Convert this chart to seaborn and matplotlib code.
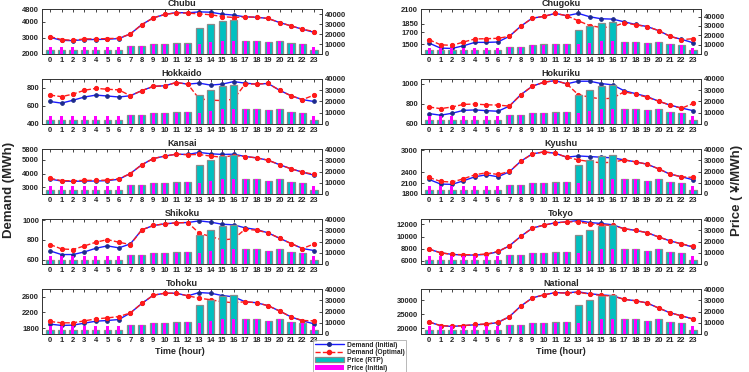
import matplotlib
matplotlib.use("Agg")
import matplotlib.pyplot as plt
import seaborn as sns
from matplotlib.lines import Line2D
from matplotlib.patches import Patch

hours = list(range(24))

price_rtp = [3800, 3800, 3800, 3800, 3800, 3800, 3800, 7900, 8000, 10000, 10200, 10800,
             11000, 26000, 29800, 33600, 34500, 13200, 13200, 12000, 13200, 10800, 9900, 3800]
price_init = [6700, 6700, 6700, 6700, 6700, 6700, 6700, 7600, 7600, 9800, 9900, 10200,
              10300, 10200, 11700, 13500, 13500, 12900, 12900, 12000, 12900, 10500, 9600, 6700]

chubu_init = [3040, 2850, 2830, 2900, 2900, 2920, 2960, 3250, 3830, 4250, 4460, 4580,
              4560, 4620, 4600, 4480, 4420, 4310, 4290, 4210, 3960, 3750, 3540, 3350]
chubu_opt = [3080, 2900, 2850, 2940, 2940, 2960, 2980, 3250, 3830, 4250, 4460, 4560,
             4540, 4500, 4440, 4330, 4270, 4310, 4290, 4210, 3960, 3750, 3540, 3400]

hokkaido_init = [650, 632, 664, 700, 721, 711, 700, 714, 771, 818, 825, 861,
                 843, 854, 832, 843, 871, 854, 843, 850, 775, 714, 671, 650]
hokkaido_opt = [721, 704, 732, 775, 796, 786, 779, 714, 771, 818, 825, 861,
                843, 680, 665, 660, 675, 843, 845, 850, 775, 714, 671, 721]

kansai_init = [3600, 3450, 3430, 3450, 3450, 3480, 3580, 4000, 4650, 5100, 5280, 5420,
               5400, 5550, 5450, 5400, 5420, 5250, 5150, 4980, 4650, 4350, 4100, 3880]
kansai_opt = [3650, 3480, 3470, 3500, 3500, 3520, 3620, 4000, 4650, 5100, 5280, 5420,
              5380, 5400, 5280, 5200, 5320, 5250, 5150, 4980, 4650, 4350, 4100, 3950]

shikoku_init = [688, 651, 651, 678, 715, 739, 719, 759, 902, 946, 963, 973,
                976, 993, 980, 959, 953, 922, 905, 871, 817, 763, 712, 692]
shikoku_opt = [753, 708, 702, 739, 776, 803, 776, 753, 902, 946, 963, 973,
               976, 868, 834, 800, 810, 908, 898, 871, 817, 763, 712, 759]

tohoku_init = [1900, 1867, 1875, 1925, 1975, 1992, 2017, 2183, 2425, 2633, 2683, 2683,
               2617, 2700, 2683, 2625, 2592, 2467, 2442, 2367, 2233, 2083, 1983, 1908]
tohoku_opt = [1967, 1933, 1933, 1983, 2033, 2058, 2092, 2183, 2425, 2633, 2683, 2683,
              2617, 2558, 2517, 2467, 2442, 2467, 2442, 2367, 2233, 2083, 1992, 1983]

chugoku_init = [1517, 1431, 1425, 1471, 1529, 1529, 1535, 1633, 1806, 1944, 1973, 2025,
                1985, 2025, 1967, 1933, 1927, 1881, 1835, 1800, 1731, 1633, 1581, 1523]
chugoku_opt = [1575, 1488, 1477, 1535, 1587, 1592, 1598, 1633, 1806, 1944, 1973, 2025,
               1985, 1898, 1817, 1783, 1794, 1864, 1829, 1800, 1731, 1633, 1575, 1592]

hokuriku_init = [703, 687, 706, 735, 739, 732, 726, 777, 890, 974, 1013, 1029,
                 997, 1023, 1023, 1000, 987, 929, 900, 871, 826, 787, 758, 732]
hokuriku_opt = [768, 752, 768, 794, 797, 790, 787, 777, 890, 974, 1013, 1029,
                997, 890, 865, 848, 855, 919, 894, 865, 826, 787, 755, 803]

kyushu_init = [2200, 2073, 2064, 2163, 2273, 2327, 2273, 2409, 2700, 2900, 2955, 2918,
               2810, 2845, 2827, 2810, 2791, 2736, 2682, 2618, 2491, 2345, 2273, 2191]
kyushu_opt = [2255, 2145, 2127, 2218, 2327, 2382, 2336, 2418, 2700, 2900, 2955, 2918,
              2810, 2736, 2691, 2655, 2673, 2736, 2682, 2618, 2491, 2345, 2273, 2255]

tokyo_init = [7946, 7350, 7080, 6970, 6970, 7080, 7510, 8490, 10050, 11400, 11890, 12270,
              12430, 12650, 12320, 12160, 11950, 11300, 11030, 10650, 9950, 9300, 8810, 8270]
tokyo_opt = [7946, 7350, 7080, 7030, 7030, 7140, 7570, 8490, 10050, 11400, 11890, 12270,
             12430, 12430, 12110, 11950, 11840, 11300, 11030, 10650, 9950, 9300, 8810, 8380]

national_init = [22200, 20900, 20600, 20900, 21200, 21400, 22000, 24100, 27900, 30800, 31900, 32700,
                 32600, 33000, 32300, 31900, 31600, 30300, 29800, 29000, 27200, 25500, 24400, 23300]
national_opt = [22200, 20900, 20700, 20900, 21300, 21500, 22100, 24100, 27900, 30800, 31900, 32700,
                32500, 32800, 32200, 31700, 31500, 30300, 29800, 29000, 27200, 25500, 24400, 23200]

region_names = ["Chubu", "Hokkaido", "Kansai", "Shikoku", "Tohoku",
                "Chugoku", "Hokuriku", "Kyushu", "Tokyo", "National"]
region_init = [chubu_init, hokkaido_init, kansai_init, shikoku_init, tohoku_init,
               chugoku_init, hokuriku_init, kyushu_init, tokyo_init, national_init]
region_opt = [chubu_opt, hokkaido_opt, kansai_opt, shikoku_opt, tohoku_opt,
              chugoku_opt, hokuriku_opt, kyushu_opt, tokyo_opt, national_opt]
left_ylims = [(2000, 4800), (400, 900), (2500, 5800), (555, 1012), (1650, 2790),
              (1330, 2100), (600, 1045), (1800, 3035), (5500, 12900), (17900, 34000)]
left_yticks = [[2000, 3000, 4000, 4800], [400, 600, 800], [3000, 4000, 5000, 5800],
               [600, 800, 1000], [1800, 2200, 2600],
               [1500, 1700, 1850, 2100], [600, 800, 1000], [1800, 2100, 2400, 3000],
               [6000, 8000, 10000, 12000], [20000, 25000, 30000]]
right_ymax = [45300, 40000, 40000, 40000, 40000, 48000, 40000, 40000, 40000, 40000]
right_yticks = [0, 10000, 20000, 30000, 40000]

sns.set_style("ticks")
plt.rcParams['font.family'] = ['Liberation Sans', 'DejaVu Sans']
plt.rcParams['font.weight'] = 'bold'

W, H = 749, 372
fig = plt.figure(figsize=(W / 100, H / 100), dpi=100)

blue = "#1a1aff"
blue_mk = "#1c2a8c"
red = "#ff1a1a"
cyan = "#00c0c0"
magenta = "#ff00ff"
tick_fs = 5.5
lw = 1.0
ms_blue = 2.6
ms_red = 3.0

for i, name in enumerate(region_names):
    col = i // 5
    row = i % 5
    left_px = 42 if col == 0 else 421
    top_px = 9 + 70 * row
    ax = fig.add_axes([left_px / W, 1 - (top_px + 45) / H, 280 / W, 45 / H])
    ax2 = ax.twinx()

    sns.lineplot(x=hours, y=region_init[i], ax=ax, color=blue, linewidth=lw,
                 marker="o", markersize=ms_blue, markerfacecolor=blue_mk,
                 markeredgecolor=blue_mk)
    sns.lineplot(x=hours, y=region_opt[i], ax=ax, color=red, linewidth=lw,
                 linestyle="--", marker="o", markersize=ms_red, markerfacecolor=red,
                 markeredgecolor=red)

    sns.barplot(x=hours, y=price_rtp, ax=ax2, color=cyan, width=0.62,
                edgecolor="#8a8a8a", linewidth=0.9, saturation=1)
    sns.barplot(x=hours, y=price_init, ax=ax2, color=magenta, width=0.26,
                linewidth=0, saturation=1)

    ax.set_xlim(-0.7, 23.7)
    ax2.set_xlim(-0.7, 23.7)
    ax.set_ylim(*left_ylims[i])
    ax.set_yticks(left_yticks[i])
    ax.set_yticklabels([str(v) for v in left_yticks[i]])
    ax2.set_ylim(0, right_ymax[i])
    ax2.set_yticks(right_yticks)
    ax2.set_yticklabels([str(v) for v in right_yticks])
    ax.set_xticks(hours)
    ax.set_xticklabels([str(h) for h in hours])
    ax.set_xlabel("")
    ax.set_ylabel("")
    ax2.set_xlabel("")
    ax2.set_ylabel("")

    ax.tick_params(axis="both", direction="in", length=2, width=0.6,
                   labelsize=tick_fs, pad=2, top=True, right=False)
    ax2.tick_params(axis="y", direction="in", length=2, width=0.6,
                    labelsize=tick_fs, pad=2)
    for a in (ax, ax2):
        for sp in a.spines.values():
            sp.set_visible(True)
            sp.set_linewidth(0.6)
            sp.set_color("#333333")
    ax.set_title(name, fontsize=6.5, fontweight="bold", pad=2)

fig.text(180 / W, 1 - 351 / H, "Time (hour)", ha="center", va="center",
         fontsize=6.5, fontweight="bold")
fig.text(561 / W, 1 - 351 / H, "Time (hour)", ha="center", va="center",
         fontsize=6.5, fontweight="bold")
fig.text(9 / W, 1 - 190 / H, "Demand (MWh)", rotation=90, ha="center", va="center",
         fontsize=9.5, fontweight="bold")
fig.text(737 / W, 1 - 190 / H, "Price ( \u00a5/MWh)", rotation=90, ha="center",
         va="center", fontsize=9.5, fontweight="bold")

handles = [
    Line2D([], [], color=blue, linewidth=lw, marker="o", markersize=ms_blue,
           markerfacecolor=blue_mk, markeredgecolor=blue_mk),
    Line2D([], [], color=red, linewidth=lw, linestyle="--", marker="o",
           markersize=ms_red, markerfacecolor=red, markeredgecolor=red),
    Patch(facecolor=cyan, edgecolor="#8a8a8a", linewidth=0.9),
    Patch(facecolor=magenta, edgecolor="none"),
]
labels = ["Demand (Initial)", "Demand (Optimal)", "Price (RTP)", "Price (Initial)"]
leg = fig.legend(handles, labels, loc="upper left",
                 bbox_to_anchor=(313 / W, 1 - 340 / H), fontsize=4.8,
                 frameon=True, fancybox=False, edgecolor="#999999",
                 handlelength=4.4, handleheight=0.8, borderpad=0.25,
                 labelspacing=0.1, handletextpad=0.4, borderaxespad=0)
leg.get_frame().set_linewidth(0.6)

fig.savefig("out.png", dpi=100)
